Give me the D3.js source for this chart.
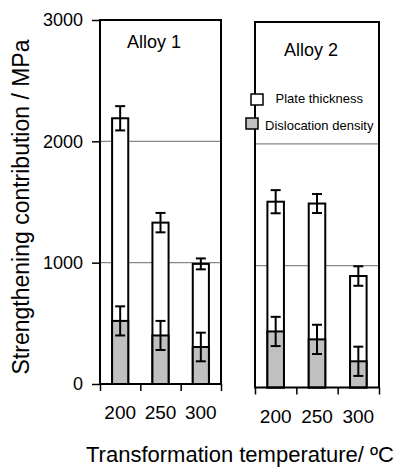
<!DOCTYPE html>
<html>
<head>
<meta charset="utf-8">
<title>Strengthening contribution</title>
<style>
  body { margin: 0; background: #fff; }
  svg { display: block; font-family: "Liberation Sans", Arial, sans-serif; }
</style>
</head>
<body>
<svg id="chart" width="403" height="468"></svg>
<script src="https://cdn.jsdelivr.net/npm/d3@7"></script>
<script>
// data
var temps = ['200', '250', '300'];
var yTicks = [0, 1000, 2000, 3000];
var gridTicks = [1000, 2000];

var alloy1Plate = [2190, 1330, 990];
var alloy1PlateErr = [100, 80, 45];
var alloy1Disl = [520, 400, 305];
var alloy1DislErr = [120, 120, 118];

var alloy2Plate = [1525, 1510, 915];
var alloy2PlateErr = [95, 78, 80];
var alloy2Disl = [460, 395, 215];
var alloy2DislErr = [120, 120, 120];

var legendLabels = ['Plate thickness', 'Dislocation density'];

var svg = d3.select('#chart');
var grey = '#c0c0c0';

//one panel per alloy
function drawPanel(opt) {
    var g = svg.append('g');
    var y = d3.scaleLinear().domain([0, 3000]).range([opt.bottom, opt.top]);
    var x = d3.scaleBand().domain(temps).range([opt.left, opt.right])
        .paddingInner(0.6).paddingOuter(0.3);
    var xb = d3.scaleLinear().domain([0, temps.length]).range([opt.left, opt.right]);

    //gridlines
    g.selectAll('.grid').data(gridTicks).enter().append('line')
        .attr('x1', opt.left).attr('x2', opt.right)
        .attr('y1', d => y(d)).attr('y2', d => y(d))
        .attr('stroke', '#888').attr('stroke-width', 1.2);

    //white bars (total) then grey (dislocation)
    var rows = temps.map((t, i) => ({t: t, p: opt.plate[i], pe: opt.plateErr[i], d: opt.disl[i], de: opt.dislErr[i]}));
    g.selectAll('.plate').data(rows).enter().append('rect')
        .attr('x', d => x(d.t)).attr('width', x.bandwidth())
        .attr('y', d => y(d.p)).attr('height', d => y(0) - y(d.p))
        .attr('fill', '#fff').attr('stroke', '#000').attr('stroke-width', 2);
    g.selectAll('.disl').data(rows).enter().append('rect')
        .attr('x', d => x(d.t)).attr('width', x.bandwidth())
        .attr('y', d => y(d.d)).attr('height', d => y(0) - y(d.d))
        .attr('fill', grey).attr('stroke', '#000').attr('stroke-width', 2);

    //error bars
    function errBars(key, errKey) {
        var eg = g.selectAll('.eb-' + key).data(rows).enter().append('g')
            .attr('stroke', '#000').attr('stroke-width', 2);
        var cx = d => x(d.t) + x.bandwidth() / 2;
        eg.append('line').attr('x1', cx).attr('x2', cx)
            .attr('y1', d => y(d[key] + d[errKey])).attr('y2', d => y(d[key] - d[errKey]));
        [1, -1].forEach(function (s) {
            eg.append('line').attr('x1', d => cx(d) - 5).attr('x2', d => cx(d) + 5)
                .attr('y1', d => y(d[key] + s * d[errKey])).attr('y2', d => y(d[key] + s * d[errKey]));
        });
    }
    errBars('p', 'pe');
    errBars('d', 'de');

    //frame
    g.append('rect')
        .attr('x', opt.left).attr('y', opt.top)
        .attr('width', opt.right - opt.left).attr('height', opt.bottom - opt.top)
        .attr('fill', 'none').attr('stroke', '#000').attr('stroke-width', 2);

    //bottom ticks at band edges
    g.append('g').attr('transform', 'translate(0,' + opt.bottom + ')')
        .call(d3.axisBottom(xb).tickValues(d3.range(temps.length + 1)).tickSize(7).tickFormat(''))
        .call(a => a.select('.domain').remove())
        .call(a => a.selectAll('line').attr('stroke-width', 1.5));

    //tick labels
    g.append('g').attr('transform', 'translate(0,' + opt.bottom + ')')
        .call(d3.axisBottom(x).tickSize(0).tickPadding(22))
        .call(a => a.select('.domain').remove())
        .call(a => a.selectAll('text').attr('font-size', 19).attr('font-family', null).attr('fill', '#000'));

    //panel title
    g.append('text').attr('x', opt.titleX).attr('y', opt.titleY)
        .attr('text-anchor', 'middle').attr('font-size', 18).text(opt.title);

    return {g: g, y: y};
}

var p1 = drawPanel({left: 100, right: 221, top: 20, bottom: 384,
    plate: alloy1Plate, plateErr: alloy1PlateErr, disl: alloy1Disl, dislErr: alloy1DislErr,
    title: 'Alloy 1', titleX: 154, titleY: 47.5});
var p2 = drawPanel({left: 255, right: 379, top: 22, bottom: 387.5,
    plate: alloy2Plate, plateErr: alloy2PlateErr, disl: alloy2Disl, dislErr: alloy2DislErr,
    title: 'Alloy 2', titleX: 311, titleY: 55.5});

//left y axis
svg.append('g').attr('transform', 'translate(100,0)')
    .call(d3.axisLeft(p1.y).tickValues(yTicks).tickFormat(d3.format('d')).tickSize(8).tickPadding(9))
    .call(a => a.select('.domain').remove())
    .call(a => a.selectAll('line').attr('stroke-width', 1.5))
    .call(a => a.selectAll('text').attr('font-size', 18).attr('font-family', null).attr('fill', '#000'));

//legend
var leg = svg.append('g');
var legItems = [{x: 251, y: 94, fill: '#fff', tx: 275.5, ty: 102.5},
                {x: 246, y: 118, fill: grey, tx: 265, ty: 129.5}];
legItems.forEach(function (d, i) {
    leg.append('rect').attr('x', d.x).attr('y', d.y).attr('width', 12).attr('height', 11)
        .attr('fill', d.fill).attr('stroke', '#000').attr('stroke-width', 1.5);
    leg.append('text').attr('x', d.tx).attr('y', d.ty).attr('font-size', 13).text(legendLabels[i]);
});

//axis titles
svg.append('text')
    .attr('transform', 'translate(29,207) rotate(-90)')
    .attr('text-anchor', 'middle').attr('font-size', 23)
    .text('Strengthening contribution / MPa');

svg.append('text')
    .attr('x', 240).attr('y', 462)
    .attr('text-anchor', 'middle').attr('font-size', 22)
    .text('Transformation temperature/ ºC');
</script>
</body>
</html>
